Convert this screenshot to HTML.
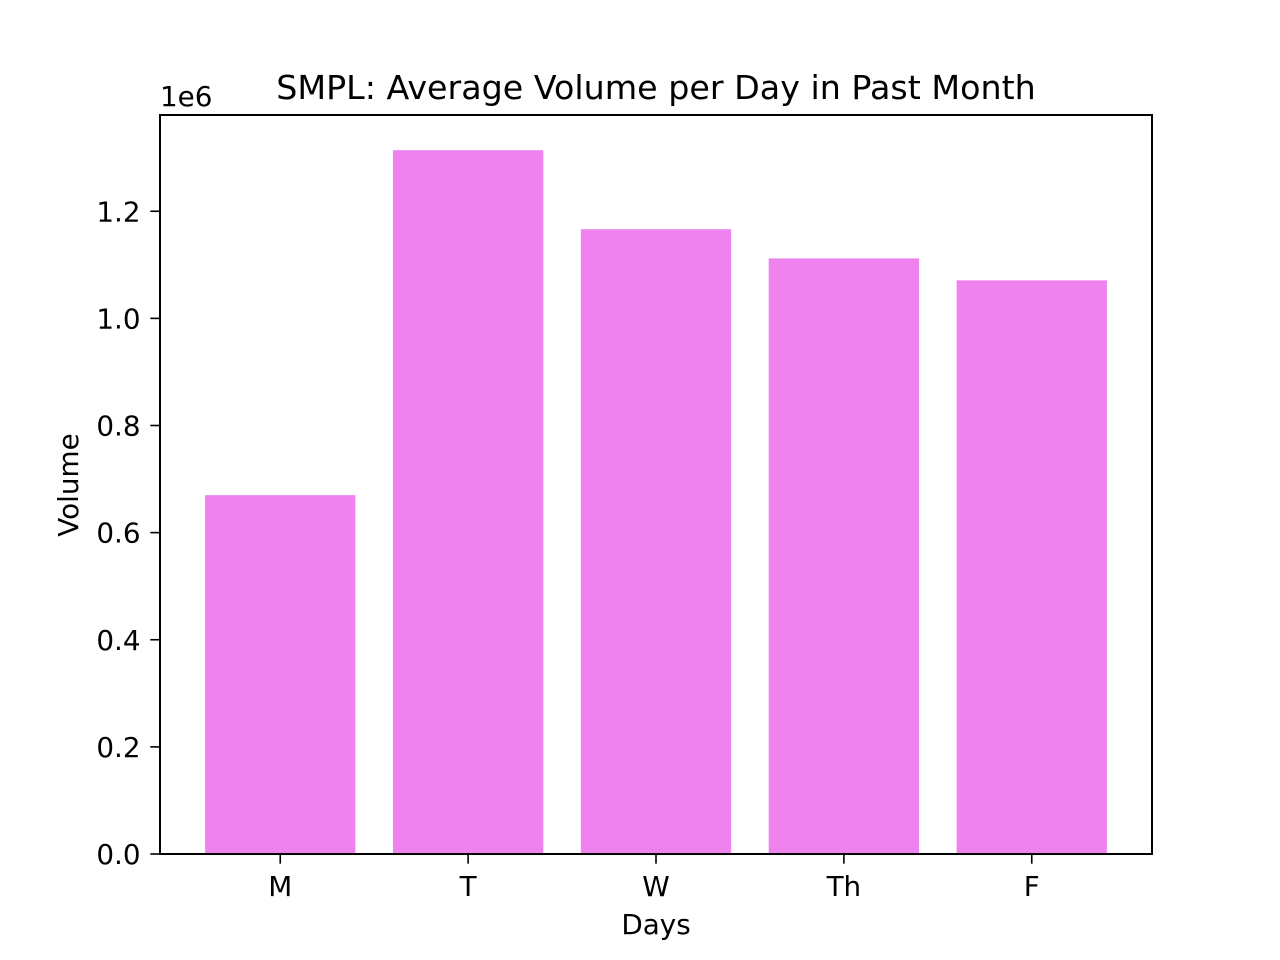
<!DOCTYPE html>
<html><head><meta charset="utf-8"><style>
body{margin:0;background:#fff;}
svg{display:block;font-family:"DejaVu Sans","Liberation Sans",sans-serif;}
</style></head><body>
<svg id="chart" width="1280" height="960">
<text x="656" y="99" font-size="33.3" text-anchor="middle">SMPL: Average Volume per Day in Past Month</text>
<text x="160" y="106" font-size="27.8">1e6</text>
<text x="656" y="934" font-size="27.8" text-anchor="middle">Days</text>
<text transform="translate(78,485) rotate(-90)" font-size="27.8" text-anchor="middle">Volume</text>
<g id="bars"></g><g id="ticks"></g>
<rect x="160" y="115" width="992" height="739" fill="none" stroke="#000" stroke-width="2"/>
</svg>
<script>
const categories = ["M","T","W","Th","F"];
const volumes = [0.670, 1.314, 1.1665, 1.112, 1.071];
const yTicks = [0, 0.2, 0.4, 0.6, 0.8, 1.0, 1.2];
const yTickLabels = ["0.0","0.2","0.4","0.6","0.8","1.0","1.2"];
const L=160,R=1152,T=115,B=854;
const ymax=Math.max(...volumes)*1.05;
const xmin=-0.4-0.05*(categories.length-1+0.8), xmax=categories.length-1+0.4+0.05*(categories.length-1+0.8);
const xs=v=>L+(v-xmin)/(xmax-xmin)*(R-L);
const ys=v=>B-v/ymax*(B-T);
const NS="http://www.w3.org/2000/svg";
const bars=document.getElementById('bars'), ticks=document.getElementById('ticks');
function mk(tag,attrs,parent){const e=document.createElementNS(NS,tag);for(const k in attrs)e.setAttribute(k,attrs[k]);parent.appendChild(e);return e;}
categories.forEach((c,i)=>{
  const x0=xs(i-0.4),x1=xs(i+0.4);
  const r=mk('rect',{x:x0,y:ys(volumes[i]),width:x1-x0,height:B-ys(volumes[i]),fill:'#EE82EE'},bars);
  
  
  const t=mk('line',{x1:xs(i),x2:xs(i),y1:B,y2:B+9.7,stroke:'#000','stroke-width':1.6},ticks);
  
  
  const l=mk('text',{x:xs(i),y:B+42,'font-size':27.8,'text-anchor':'middle'},ticks);
  l.textContent=c;
  
  
});
yTicks.forEach((v,i)=>{
  const t=mk('line',{x1:L-9.7,x2:L,y1:ys(v),y2:ys(v),stroke:'#000','stroke-width':1.6},ticks);
  
  
  const l=mk('text',{x:L-19.4,y:ys(v)+10,'font-size':27.8,'text-anchor':'end'},ticks);
  l.textContent=yTickLabels[i];
  
  
});
</script>
</body></html>
